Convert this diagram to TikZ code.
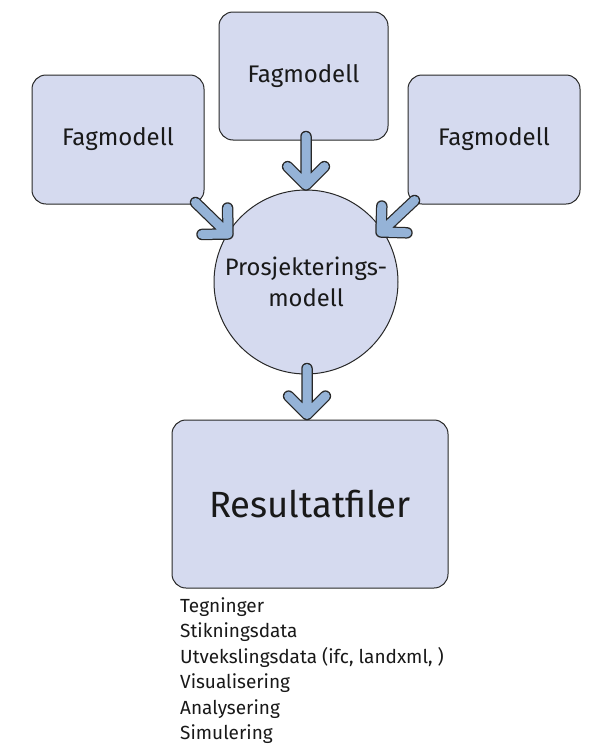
\documentclass[tikz,border=0pt]{standalone}
\usepackage{fontspec}
\setmainfont{Fira Sans}
\usetikzlibrary{calc}
\definecolor{boxfill}{RGB}{213,218,239}
\definecolor{boxline}{RGB}{40,40,40}
\definecolor{arrowblue}{RGB}{149,179,215}
\definecolor{ink}{RGB}{25,25,25}
\tikzset{
  modelbox/.style={draw=boxline, fill=boxfill, line width=1pt, rounded corners=14pt,
    text=ink, font=\fontsize{24}{28}\selectfont, inner sep=0pt},
  hub/.style={draw=boxline, fill=boxfill, line width=1pt, circle, minimum size=184pt,
    text=ink, font=\fontsize{23.8}{31}\selectfont, align=center, inner sep=0pt},
  arrowrim/.style={draw=boxline, line width=11.5pt, line cap=round, line join=round},
  arrowcore/.style={draw=arrowblue, line width=9pt, line cap=round, line join=round},
  listtext/.style={anchor=north west, text=ink, align=left, inner sep=0pt,
    font=\fontsize{19}{25.5}\selectfont}
}
% thick outlined chevron arrow from #1 to #2
\newcommand\blockarrow[2]{%
  \draw[arrowrim] (#1) -- (#2) ($(#2)!26pt!45:(#1)$) -- (#2) -- ($(#2)!26pt!-45:(#1)$);
  \draw[arrowcore] (#1) -- (#2) ($(#2)!26pt!45:(#1)$) -- (#2) -- ($(#2)!26pt!-45:(#1)$);
}
\begin{document}
\begin{tikzpicture}[x=1pt, y=-1pt]
  \useasboundingbox (0,0) rectangle (594,747);
  \fill[white] (0,0) rectangle (594,747);

  % three discipline models
  \node[modelbox, minimum width=172pt, minimum height=129pt] (f1) at (118,139.5) {Fagmodell};
  \node[modelbox, minimum width=169pt, minimum height=128pt] (f2) at (303.5,76) {Fagmodell};
  \node[modelbox, minimum width=172pt, minimum height=129pt] (f3) at (494,139.5) {Fagmodell};

  % combined design model
  \node[hub] (pm) at (306,282) {Prosjekterings-\\modell};

  % result files
  \node[modelbox, minimum width=276pt, minimum height=168pt,
        font=\fontsize{36.5}{42}\selectfont] (res) at (310,504) {Resultatfiler};

  \node[listtext] (list) at (180,597) {Tegninger\\Stikningsdata\\Utvekslingsdata (ifc, landxml, )\\Visualisering\\Analysering\\Simulering};

  % arrows
  \coordinate (a1s) at ($(f1.south east)+(-9,-2)$);
  \coordinate (a1t) at (228,234);
  \coordinate (a2s) at ($(f2.south)+(2.5,-4)$);
  \coordinate (a2t) at (306,185);
  \coordinate (a3s) at ($(f3.south west)+(7,-4)$);
  \coordinate (a3t) at (381,232);
  \coordinate (a4s) at ($(pm.south)+(1,-6)$);
  \coordinate (a4t) at ($(res.north)+(-3,-5)$);
  \blockarrow{a1s}{a1t}
  \blockarrow{a2s}{a2t}
  \blockarrow{a3s}{a3t}
  \blockarrow{a4s}{a4t}
\end{tikzpicture}
\end{document}
